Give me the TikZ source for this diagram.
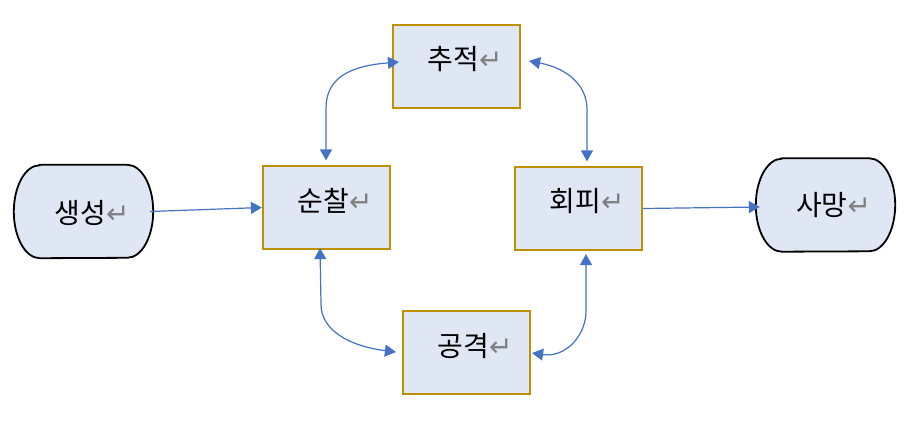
\documentclass[tikz,border=0pt]{standalone}
\usepackage{fontspec}
\setmainfont{Noto Sans CJK KR}
\newfontfamily\symfont{DejaVu Sans}
\usetikzlibrary{arrows.meta,backgrounds,calc}
\definecolor{boxfill}{HTML}{E0E7F4}
\definecolor{boxline}{HTML}{BF9000}
\definecolor{arrowblue}{HTML}{4472C4}
\definecolor{retgray}{HTML}{808080}
\newcommand{\retmark}{{\symfont\fontsize{28}{28}\selectfont\color{retgray}↵}}
\begin{document}
\begin{tikzpicture}[x=1pt,y=1pt,
  statebox/.style={draw=boxline, line width=2.2pt, fill=boxfill, minimum width=127pt, minimum height=83pt, inner sep=0pt},
  termnode/.style={minimum width=139pt, minimum height=93pt, inner sep=0pt},
  termshape/.style={fill=boxfill, draw=black, line width=1.8pt},
  lbl/.style={inner sep=0pt, font=\fontsize{28}{32}\selectfont},
  conn/.style={draw=arrowblue, line width=1.2pt, {Triangle[length=11pt,width=12pt]}-{Triangle[length=11pt,width=12pt]}},
  conn1/.style={draw=arrowblue, line width=1.2pt, -{Triangle[length=11pt,width=12pt]}}
]
\useasboundingbox (0,0) rectangle (917,424);

% terminals
\node[termnode] (saeng) at (83.5,212.5) {};
\node[termnode] (samang) at (825.5,219) {};
\begin{scope}[on background layer]
\filldraw[termshape] ([xshift=26pt]saeng.north west) -- ([xshift=-26pt]saeng.north east)
  arc[start angle=90,end angle=-90,x radius=26pt,y radius=46.5pt]
  -- ([xshift=26pt]saeng.south west)
  arc[start angle=270,end angle=90,x radius=26pt,y radius=46.5pt] -- cycle;
\filldraw[termshape] ([xshift=26pt]samang.north west) -- ([xshift=-26pt]samang.north east)
  arc[start angle=90,end angle=-90,x radius=26pt,y radius=46.5pt]
  -- ([xshift=26pt]samang.south west)
  arc[start angle=270,end angle=90,x radius=26pt,y radius=46.5pt] -- cycle;
\end{scope}
\node[lbl] (saeng-t) at ([shift={(8.5,-1.5)}]saeng.center) {생성\retmark};
\node[lbl] (samang-t) at ([shift={(8,0)}]samang.center) {사망\retmark};

% state boxes
\node[statebox] (sunchal) at (326.5,216.5) {};
\node[statebox] (chujeok) at (456.5,357.5) {};
\node[statebox] (hoepi) at (578.5,215.5) {};
\node[statebox] (gonggyeok) at (466.5,71.5) {};
\node[lbl] (sunchal-t) at ([shift={(8.5,7)}]sunchal.center) {순찰\retmark};
\node[lbl] (chujeok-t) at ([shift={(8.5,7)}]chujeok.center) {추적\retmark};
\node[lbl] (hoepi-t) at ([shift={(8.5,7)}]hoepi.center) {회피\retmark};
\node[lbl] (gonggyeok-t) at ([shift={(8.5,7)}]gonggyeok.center) {공격\retmark};

% connector end points
\coordinate (s-r) at ([xshift=-3pt]saeng.east);
\coordinate (h-r) at (hoepi.east);
\coordinate (sa-l) at ([xshift=4pt,yshift=-2pt]samang.west);
\coordinate (su-n) at ([shift={(-0.5,4.5)}]sunchal.north);
\coordinate (su-s) at ([shift={(-6.5,2)}]sunchal.south);
\coordinate (c-w) at ([shift={(7,4.5)}]chujeok.west);
\coordinate (c-e) at ([shift={(8,5.5)}]chujeok.east);
\coordinate (h-n) at ([shift={(8.5,4.5)}]hoepi.north);
\coordinate (h-s) at ([shift={(7.5,-3)}]hoepi.south);
\coordinate (g-w) at ([shift={(-6,0.5)}]gonggyeok.west);
\coordinate (g-e) at ([shift={(1,-0.5)}]gonggyeok.east);

\draw[conn1] (s-r) -- (sunchal.west);
\draw[conn1] (h-r) -- (sa-l);
\draw[conn] (su-n) -- ++(0,52) .. controls +(0,30) and +(-50,-4) .. (c-w);
\draw[conn] (c-e) .. controls +(37,-7) and +(0,25) .. ($(h-n)+(0,52)$) -- (h-n);
\draw[conn] (su-s) -- ++(1,-56) .. controls +(0,-26) and +(-47,6) .. (g-w);
\draw[conn] (h-s) -- ++(0,-57) .. controls +(0,-24) and +(34,-5) .. (g-e);
\end{tikzpicture}
\end{document}
